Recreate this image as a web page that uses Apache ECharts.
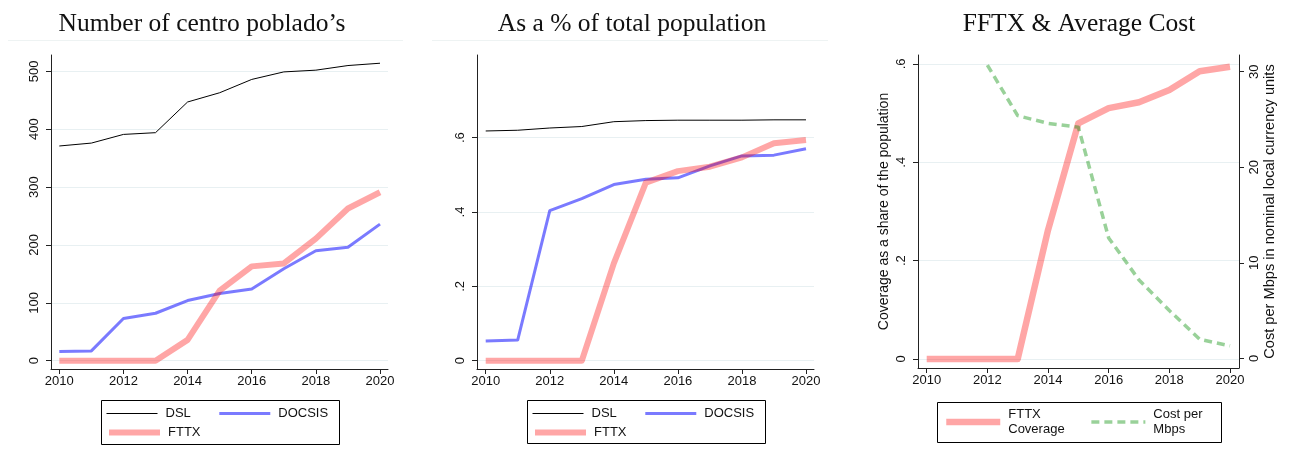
<!DOCTYPE html>
<html>
<head>
<meta charset="utf-8">
<script src="https://cdn.jsdelivr.net/npm/echarts@6/dist/echarts.min.js"></script>
<style>
  html, body { margin: 0; padding: 0; background: #fff; }
  #chart { width: 1294px; height: 458px; }
</style>
</head>
<body>
<div id="chart"></div>
<script>
// Broadband rollout by technology, 2010-2020
const years = [2010, 2011, 2012, 2013, 2014, 2015, 2016, 2017, 2018, 2019, 2020];
const yearTicks = [2010, 2012, 2014, 2016, 2018, 2020];

// Number of centros poblados covered
const countDSL    = [371, 376, 391, 394, 447, 463, 486, 499, 502, 510, 514];
const countDOCSIS = [16, 17, 73, 82, 104, 116, 124, 159, 190, 196, 236];
const countFTTX   = [0, 0, 0, 0, 36, 121, 163, 168, 211, 263, 291];
const countTicks  = [0, 100, 200, 300, 400, 500];

// Covered share of total population
const shareDSL    = [0.618, 0.620, 0.626, 0.630, 0.643, 0.646, 0.647, 0.647, 0.647, 0.648, 0.648];
const shareDOCSIS = [0.053, 0.056, 0.404, 0.436, 0.474, 0.488, 0.492, 0.524, 0.551, 0.553, 0.570];
const shareFTTX   = [0, 0, 0, 0, 0.262, 0.479, 0.510, 0.522, 0.547, 0.585, 0.594];
const shareTicks  = [0, 0.2, 0.4, 0.6];

// Average cost per Mbps (nominal local currency)
const costYears   = [2012, 2013, 2014, 2015, 2016, 2017, 2018, 2019, 2020];
const costPerMbps = [30.7, 25.4, 24.6, 24.2, 12.6, 8.2, 5.0, 2.0, 1.3];
const costTicks   = [0, 10, 20, 30];

const pairs = (xs, ys) => xs.map((x, i) => [x, ys[i]]);

const SANS = 'Liberation Sans';
const SERIF = 'Liberation Serif';
const AXIS_COLOR = '#222';
const GRID_COLOR = '#e8f0f2';

const colDSL = '#000000';
const colDOCSIS = 'rgba(0,0,255,0.52)';
const colFTTX = 'rgba(255,0,0,0.35)';
const colCost = 'rgba(0,140,0,0.40)';

const shareFmt = v => (v === 0 ? '0' : String(+v.toFixed(1)).replace(/^0/, ''));

function xAxisFor(gridIndex, min, max) {
  return {
    type: 'value', gridIndex, min, max,
    axisLine: { show: true, onZero: false, lineStyle: { color: AXIS_COLOR, width: 1 } },
    axisTick: { show: true, length: 5, customValues: yearTicks, lineStyle: { color: AXIS_COLOR } },
    axisLabel: { customValues: yearTicks, margin: 6, fontFamily: SANS, fontSize: 13, color: '#111',
                 formatter: v => String(v) },
    splitLine: { show: false }
  };
}

function yAxisFor(gridIndex, min, max, ticks, fmt, extra) {
  return Object.assign({
    type: 'value', gridIndex, min, max,
    axisLine: { show: true, onZero: false, lineStyle: { color: AXIS_COLOR, width: 1 } },
    axisTick: { show: true, length: 5, customValues: ticks, lineStyle: { color: AXIS_COLOR } },
    axisLabel: { customValues: ticks, rotate: 90, margin: 10, fontFamily: SANS, fontSize: 13, color: '#111',
                 formatter: fmt },
    splitLine: { show: true, lineStyle: { color: GRID_COLOR, width: 1 } }
  }, extra || {});
}

function lineSeries(name, xi, yi, data, color, width, type) {
  return {
    name, type: 'line', xAxisIndex: xi, yAxisIndex: yi, data,
    symbol: 'none', silent: true, animation: false,
    lineStyle: { color, width, type: type || 'solid', join: 'round', cap: 'butt' },
    itemStyle: { color }
  };
}

// Legend keys show only the line sample, no marker
function legendRow(names, left, top, itemWidth, itemGap) {
  return {
    data: names, left, top, orient: 'horizontal',
    itemWidth, itemHeight: 14, itemGap, padding: 0,
    selectedMode: false, inactiveColor: '#000',
    textStyle: { fontFamily: SANS, fontSize: 13, color: '#111', padding: [0, 0, 0, 3], lineHeight: 15 },
    lineStyle: { width: 'inherit' },
    itemStyle: { opacity: 0, borderWidth: 0 }
  };
}

const titleStyle = { fontFamily: SERIF, fontSize: 25.5, fontWeight: 'normal', color: '#111' };

const option = {
  backgroundColor: '#fff',
  animation: false,
  title: [
    { text: 'Number of centro poblado\u2019s', left: 202, top: 11, textAlign: 'center', padding: 0, textStyle: titleStyle },
    { text: 'As a % of total population', left: 632, top: 11, textAlign: 'center', padding: 0, textStyle: titleStyle },
    { text: 'FFTX & Average Cost', left: 1079, top: 11, textAlign: 'center', padding: 0, textStyle: titleStyle }
  ],
  grid: [
    { left: 51, top: 55, width: 337, height: 314, containLabel: false },
    { left: 477, top: 55, width: 337, height: 314, containLabel: false },
    { left: 918, top: 55, width: 321, height: 313, containLabel: false }
  ],
  xAxis: [
    xAxisFor(0, 2009.741, 2020.249),
    xAxisFor(1, 2009.728, 2020.25),
    xAxisFor(2, 2009.713, 2020.297)
  ],
  yAxis: [
    yAxisFor(0, -14.3, 528.2, countTicks, v => String(v)),
    yAxisFor(1, -0.0223, 0.8224, shareTicks, shareFmt),
    yAxisFor(2, -0.0183, 0.618, shareTicks, shareFmt, {
      name: 'Coverage as a share of the population', nameLocation: 'middle', nameRotate: 90, nameGap: 27,
      nameTextStyle: { fontFamily: SANS, fontSize: 14, color: '#111' }
    }),
    yAxisFor(2, -1.015, 31.75, costTicks, v => String(v), {
      position: 'right', splitLine: { show: false },
      axisLabel: { customValues: costTicks, rotate: 90, margin: 9, fontFamily: SANS, fontSize: 13, color: '#111',
                   formatter: v => String(v) },
      name: 'Cost per Mbps in nominal local currency units', nameLocation: 'middle', nameRotate: 90, nameGap: 23,
      nameTextStyle: { fontFamily: SANS, fontSize: 14.6, color: '#111' }
    })
  ],
  legend: [
    legendRow(['DSL', 'DOCSIS'], 106, 406, 51, 27),
    legendRow(['FTTX'], 106, 425, 51, 27),
    legendRow(['DSL', 'DOCSIS'], 532, 406, 51, 27),
    legendRow(['FTTX'], 532, 425, 51, 27),
    Object.assign(legendRow(['FTTX Coverage', 'Cost per Mbps'], 943, 407, 54, 25), {
      formatter: n => (n === 'FTTX Coverage' ? 'FTTX\nCoverage' : 'Cost per\nMbps'),
      textStyle: { fontFamily: SANS, fontSize: 13, color: '#111', padding: [0, 0, 0, 3], lineHeight: 15 }
    })
  ],
  graphic: [
    { type: 'line', shape: { x1: 8, y1: 40.5, x2: 403, y2: 40.5 }, style: { stroke: '#eef3f3', lineWidth: 1 }, silent: true },
    { type: 'line', shape: { x1: 432, y1: 40.5, x2: 828, y2: 40.5 }, style: { stroke: '#eef3f3', lineWidth: 1 }, silent: true },
    { type: 'rect', shape: { x: 101.5, y: 400.5, width: 238, height: 44 }, style: { fill: 'none', stroke: '#000', lineWidth: 1 }, silent: true },
    { type: 'rect', shape: { x: 527.5, y: 400.5, width: 238, height: 43 }, style: { fill: 'none', stroke: '#000', lineWidth: 1 }, silent: true },
    { type: 'rect', shape: { x: 937.5, y: 402.5, width: 284, height: 40 }, style: { fill: 'none', stroke: '#000', lineWidth: 1 }, silent: true }
  ],
  series: [
    lineSeries('DSL', 0, 0, pairs(years, countDSL), colDSL, 1),
    lineSeries('DOCSIS', 0, 0, pairs(years, countDOCSIS), colDOCSIS, 3),
    lineSeries('FTTX', 0, 0, pairs(years, countFTTX), colFTTX, 6),

    lineSeries('DSL', 1, 1, pairs(years, shareDSL), colDSL, 1),
    lineSeries('DOCSIS', 1, 1, pairs(years, shareDOCSIS), colDOCSIS, 3),
    lineSeries('FTTX', 1, 1, pairs(years, shareFTTX), colFTTX, 6),

    lineSeries('FTTX Coverage', 2, 2, pairs(years, shareFTTX), colFTTX, 6.5),
    lineSeries('Cost per Mbps', 2, 3, pairs(costYears, costPerMbps), colCost, 3.5, [8, 5])
  ]
};

const chart = echarts.init(document.getElementById('chart'), null, { renderer: 'canvas' });
chart.setOption(option);
</script>
</body>
</html>
